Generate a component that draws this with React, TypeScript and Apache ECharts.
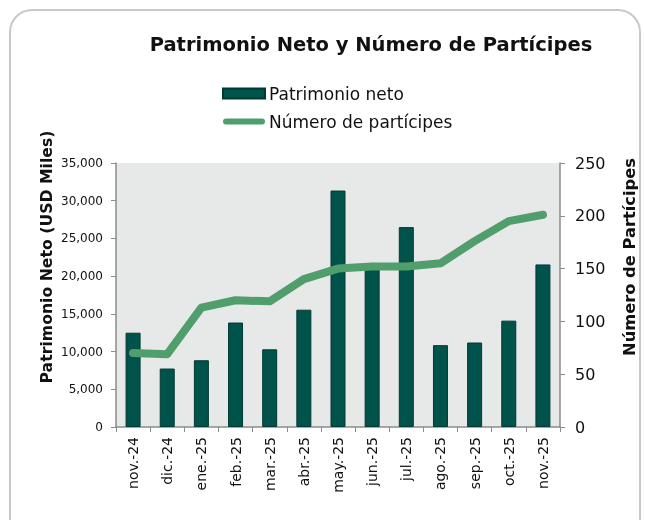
import React, { useEffect, useRef } from "react";
import * as echarts from "echarts";

const categories = ["nov.-24", "dic.-24", "ene.-25", "feb.-25", "mar.-25", "abr.-25", "may.-25", "jun.-25", "jul.-25", "ago.-25", "sep.-25", "oct.-25", "nov.-25"];
const patrimonioNeto = [12500, 7750, 8850, 13850, 10300, 15550, 31350, 21300, 26500, 10850, 11200, 14100, 21550];
const participes = [70, 69, 113, 120, 119, 140, 150, 152, 152, 155, 176, 195, 201];

const FONT = "DejaVu Sans";
const LINE_ICON = "path://M3,0H39A3,3 0 0 1 39,6H3A3,3 0 0 1 3,0Z";

export default function App() {
  const ref = useRef<HTMLDivElement>(null);
  useEffect(() => {
    if (!ref.current) return;
    const chart = echarts.init(ref.current, undefined, { renderer: "svg" });
    chart.setOption({
      animation: false,
      textStyle: { fontFamily: FONT },
      title: {
        text: "Patrimonio Neto y Número de Partícipes",
        left: 366,
        textAlign: "center",
        top: 29,
        textStyle: { fontFamily: FONT, fontSize: 19.5, fontWeight: "bold", color: "#111" },
      },
      legend: {
        orient: "vertical",
        left: 217,
        top: 80,
        itemWidth: 42,
        itemHeight: 10,
        itemGap: 11,
        textStyle: { fontFamily: FONT, fontSize: 17, color: "#111", padding: [0, 0, 0, -1] },
        data: [
          { name: "Patrimonio neto", icon: "rect" },
          { name: "Número de partícipes", icon: LINE_ICON, itemStyle: { color: "#4f9e6c" } },
        ],
      },
      graphic: [
        {
          type: "rect",
          shape: { x: 10, y: 10, width: 630, height: 540, r: 22 },
          style: { fill: "none", stroke: "#c8c8c8", lineWidth: 2 },
          silent: true,
        },
        {
          type: "text",
          x: 46,
          y: 257,
          rotation: Math.PI / 2,
          style: {
            text: "Patrimonio Neto (USD Miles)",
            fontFamily: FONT,
            fontSize: 15.7,
            fontWeight: "bold",
            fill: "#111",
            align: "center",
            verticalAlign: "middle",
          },
        },
        {
          type: "text",
          x: 629,
          y: 257,
          rotation: Math.PI / 2,
          style: {
            text: "Número de Partícipes",
            fontFamily: FONT,
            fontSize: 16.3,
            fontWeight: "bold",
            fill: "#111",
            align: "center",
            verticalAlign: "middle",
          },
        },
      ],
      grid: {
        left: 116,
        right: 85,
        top: 163,
        bottom: 93,
        show: true,
        backgroundColor: "#e7e8e8",
        borderWidth: 0,
      },
      xAxis: {
        type: "category",
        data: categories,
        boundaryGap: true,
        axisLine: { lineStyle: { color: "#8c8c8c", width: 1.5 } },
        axisTick: { show: true, length: 5, lineStyle: { color: "#8c8c8c" } },
        axisLabel: { rotate: 90, fontFamily: FONT, fontSize: 14, color: "#111", margin: 10 },
      },
      yAxis: [
        {
          type: "value",
          min: 0,
          max: 35000,
          interval: 5000,
          axisLine: { show: true, lineStyle: { color: "#8c8c8c", width: 1.5 } },
          axisTick: { show: true, length: 5, lineStyle: { color: "#8c8c8c" } },
          splitLine: { show: false },
          axisLabel: {
            fontFamily: FONT,
            fontSize: 12,
            color: "#111",
            margin: 13,
            formatter: (v: number) => v.toLocaleString("en-US"),
          },
        },
        {
          type: "value",
          min: 0,
          max: 250,
          interval: 50,
          position: "right",
          axisLine: { show: true, lineStyle: { color: "#8c8c8c", width: 1.5 } },
          axisTick: { show: true, length: 5, lineStyle: { color: "#8c8c8c" } },
          splitLine: { show: false },
          axisLabel: { fontFamily: FONT, fontSize: 16, color: "#111", margin: 15 },
        },
      ],
      series: [
        {
          name: "Patrimonio neto",
          type: "bar",
          data: patrimonioNeto,
          yAxisIndex: 0,
          barWidth: 15,
          itemStyle: { color: "#00534a", borderColor: "#003a33", borderWidth: 1 },
        },
        {
          name: "Número de partícipes",
          type: "line",
          data: participes,
          yAxisIndex: 1,
          symbol: "none",
          lineStyle: { color: "#4f9e6c", width: 8, cap: "round", join: "round" },
          itemStyle: { color: "#4f9e6c" },
        },
      ],
    });
    return () => chart.dispose();
  }, []);
  return <div ref={ref} style={{ position: "fixed", left: 0, top: 0, width: 645, height: 520 }} />;
}
